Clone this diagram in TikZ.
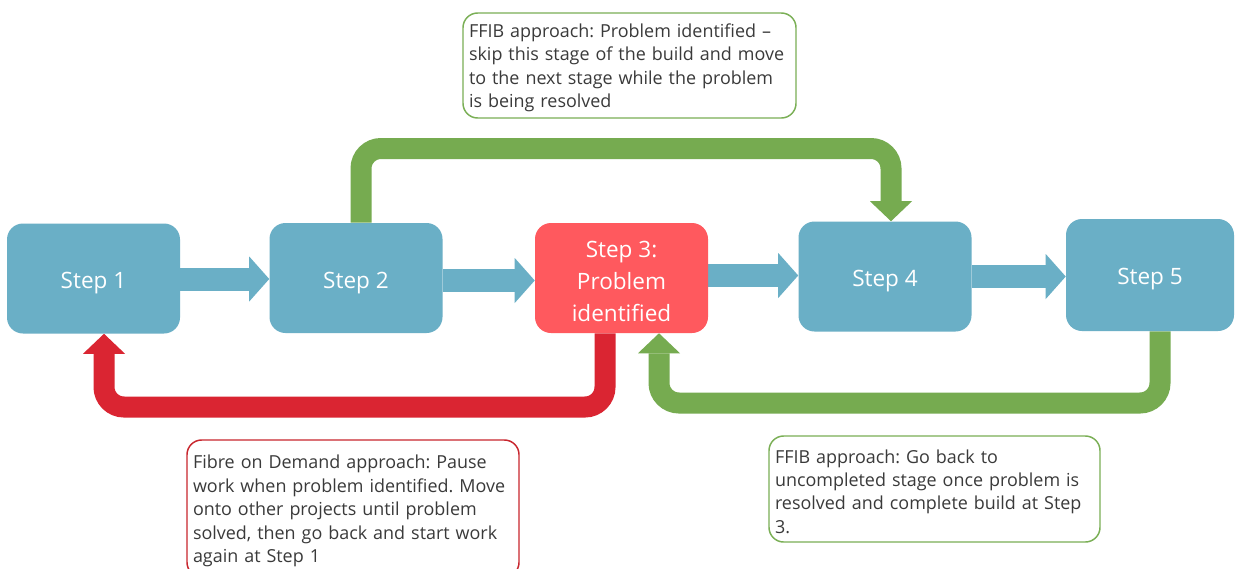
\documentclass[tikz,border=0pt]{standalone}
\usepackage{fontspec}
\setmainfont{Open Sans}
\usetikzlibrary{arrows.meta,backgrounds}
\definecolor{stepblue}{HTML}{6AAFC6}
\definecolor{stepred}{HTML}{FF595E}
\definecolor{arrred}{HTML}{DA2532}
\definecolor{arrgreen}{HTML}{76AB50}
\definecolor{txtgrey}{HTML}{3A3A3A}
\definecolor{bordred}{HTML}{C8262E}
\definecolor{bordgreen}{HTML}{7AAF55}
\newcommand{\cstrut}{\rule{0pt}{14pt}}
\begin{document}
\frenchspacing
\begin{tikzpicture}[x=0.75pt,y=-0.75pt,
  stepbox/.style={rounded corners=12pt, minimum width=129.75pt, minimum height=82.5pt,
     inner sep=0pt},
  steplabel/.style={inner sep=0pt, text=white, align=center,
     font=\fontsize{16.9pt}{24pt}\selectfont},
  bluearrow/.style={draw=stepblue, line width=17.25pt, line cap=butt,
     -{Triangle[width=33.75pt,length=15pt,line width=0pt]}},
  bentarrow/.style={line width=15.75pt, line cap=butt, rounded corners=15pt,
     -{Triangle[width=31.5pt,length=15pt,line width=0pt]}},
  callout/.style={draw, line width=1.1pt, rounded corners=11pt, text=txtgrey,
     align=left, inner xsep=4.5pt, inner ysep=0pt,
     font=\fontsize{13.45pt}{17.6pt}\selectfont},
]
\useasboundingbox (0,0) rectangle (1235,568);
\clip (0,0) rectangle (1235,568);

\node[stepbox, fill=stepblue] (s1) at (93.5,278.5) {};
\node[stepbox, fill=stepblue] (s2) at (356,278) {};
\node[stepbox, fill=stepred] (s3) at (621.5,278) {};
\node[stepbox, fill=stepblue] (s4) at (885,276.5) {};
\node[stepbox, fill=stepblue, minimum width=126pt, minimum height=84pt] (s5) at (1150,275) {};

\node[steplabel] (l1) at (93.5,283.5) {Step 1};
\node[steplabel] (l2) at (356,283.5) {Step 2};
\node[steplabel] (l3) at (621.5,281) {Step 3:\\Problem\\identified};
\node[steplabel] (l4) at (885,281.5) {Step 4};
\node[steplabel] (l5) at (1150,279.5) {Step 5};

\node[callout, draw=bordgreen, minimum width=249.75pt, minimum height=78.75pt, text width=240.75pt] (c1) at (629.5,65.5)
  {\cstrut FFIB approach: Problem identified --\\skip this stage of the build and move\\to the next stage while the problem\\is being resolved};
\node[callout, draw=bordred, minimum width=249pt, minimum height=102.75pt, text width=240pt] (c2) at (353,508.5)
  {\cstrut Fibre on Demand approach: Pause\\work when problem identified. Move\\onto other projects until problem\\solved, then go back and start work\\again at Step 1};
\node[callout, draw=bordgreen, minimum width=248.25pt, minimum height=79.5pt, text width=239.25pt] (c3) at (934.5,489)
  {\cstrut FFIB approach: Go back to\\uncompleted stage once problem is\\resolved and complete build at Step\\3.};

\coordinate (y12) at (0,279);
\coordinate (y23) at (0,280.5);
\coordinate (y34) at (0,275.5);
\coordinate (y45) at (0,276.5);
\coordinate (gA) at (361,148.5);
\coordinate (gB) at (891,148.5);
\coordinate (rA) at (605,407);
\coordinate (rB) at (104,407);
\coordinate (gC) at (1160,403);
\coordinate (gD) at (659,403);

\begin{scope}[on background layer]
\fill[white] (0,0) rectangle (1235,568);
\draw[bluearrow] (s1.east |- y12) -- (s2.west |- y12);
\draw[bluearrow] (s2.east |- y23) -- (s3.west |- y23);
\draw[bluearrow] (s3.east |- y34) -- (s4.west |- y34);
\draw[bluearrow] (s4.east |- y45) -- (s5.west |- y45);
\draw[bentarrow, draw=arrgreen] (s2.north -| gA) -- (gA) -- (gB) -- (s4.north -| gB);
\draw[bentarrow, draw=arrred] (s3.south -| rA) -- (rA) -- (rB) -- (s1.south -| rB);
\draw[bentarrow, draw=arrgreen] (s5.south -| gC) -- (gC) -- (gD) -- (s3.south -| gD);
\end{scope}
\end{tikzpicture}
\end{document}
